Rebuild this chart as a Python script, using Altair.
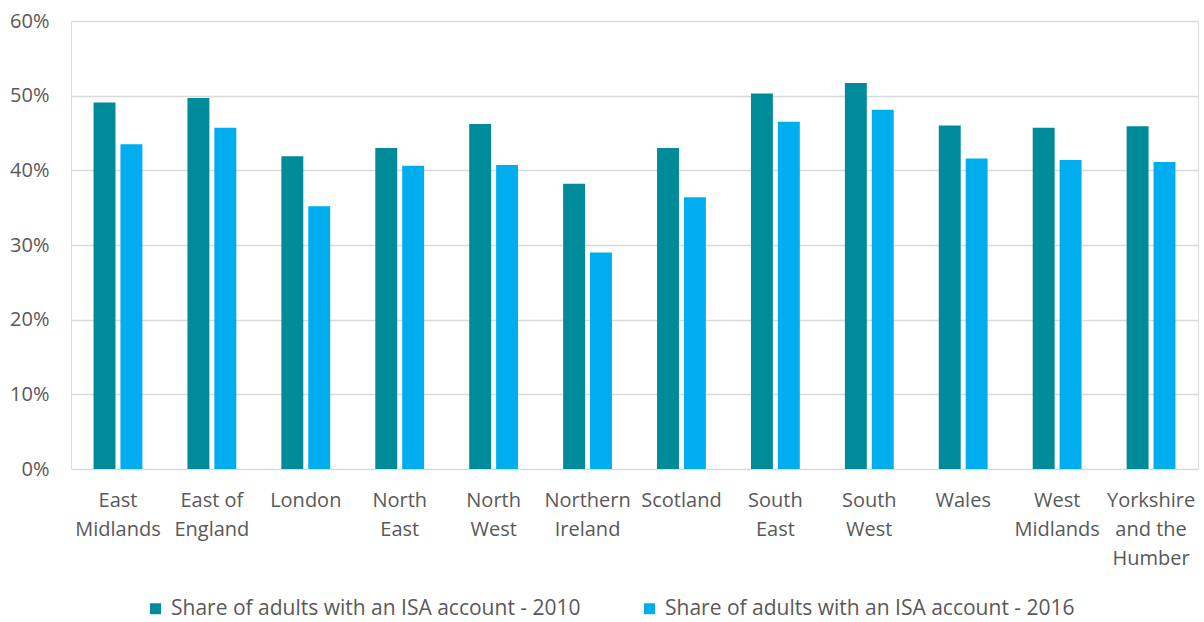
import altair as alt
import pandas as pd
import json

regions = ["East Midlands", "East of England", "London", "North East", "North West",
           "Northern Ireland", "Scotland", "South East", "South West", "Wales",
           "West Midlands", "Yorkshire and the Humber"]
label_lines = [["East", "Midlands"], ["East of", "England"], ["London"], ["North", "East"],
               ["North", "West"], ["Northern", "Ireland"], ["Scotland"], ["South", "East"],
               ["South", "West"], ["Wales"], ["West", "Midlands"], ["Yorkshire", "and the", "Humber"]]
share_2010 = [0.491, 0.497, 0.419, 0.430, 0.462, 0.382, 0.430, 0.503, 0.517, 0.460, 0.457, 0.459]
share_2016 = [0.435, 0.457, 0.352, 0.406, 0.407, 0.290, 0.364, 0.465, 0.481, 0.416, 0.414, 0.411]
series = ["Share of adults with an ISA account - 2010", "Share of adults with an ISA account - 2016"]
colors = ["#008B9B", "#00AEEF"]

rows = []
for r, a, b in zip(regions, share_2010, share_2016):
    rows.append({"region": r, "series": series[0], "value": a})
    rows.append({"region": r, "series": series[1], "value": b})
df = pd.DataFrame(rows)

label_map = json.dumps(dict(zip(regions, label_lines)))
FONT = "Open Sans"
GREY = "#595959"

chart = alt.Chart(df).mark_bar().encode(
    x=alt.X("region:N", sort=regions, title=None,
            scale=alt.Scale(paddingInner=0.48, paddingOuter=0.24),
            axis=alt.Axis(labelAngle=0, ticks=False, domain=False,
                          labelExpr=f"{label_map}[datum.label]",
                          labelFontSize=20, labelColor=GREY, labelFont=FONT,
                          labelPadding=31, labelLineHeight=29, labelBaseline="middle")),
    xOffset=alt.XOffset("series:N", sort=series,
                        scale=alt.Scale(paddingInner=0.185, paddingOuter=0)),
    y=alt.Y("value:Q", title=None,
            scale=alt.Scale(domain=[0, 0.6]),
            axis=alt.Axis(format=".0%", values=[0, 0.1, 0.2, 0.3, 0.4, 0.5, 0.6],
                          ticks=False, domain=False, gridColor="#D9D9D9", gridWidth=1.3,
                          labelFontSize=20, labelColor=GREY, labelFont=FONT, labelPadding=22)),
    color=alt.Color("series:N", sort=series,
                    scale=alt.Scale(domain=series, range=colors),
                    legend=alt.Legend(title=None, orient="none", direction="horizontal",
                                      legendX=74, legendY=577,
                                      symbolType="square", symbolSize=120,
                                      symbolStrokeWidth=0,
                                      labelFontSize=21, labelColor=GREY, labelFont=FONT,
                                      labelLimit=600, columnPadding=58, symbolOffset=0,
                                      labelOffset=5)),
).properties(
    width=1127, height=448,
    autosize=alt.AutoSizeParams(type="none"),
    padding={"left": 71, "top": 21, "right": 6, "bottom": 153},
).configure_view(stroke=None).configure(background="white")

chart.save("out.html", embed_options={"renderer": "svg", "actions": False})
